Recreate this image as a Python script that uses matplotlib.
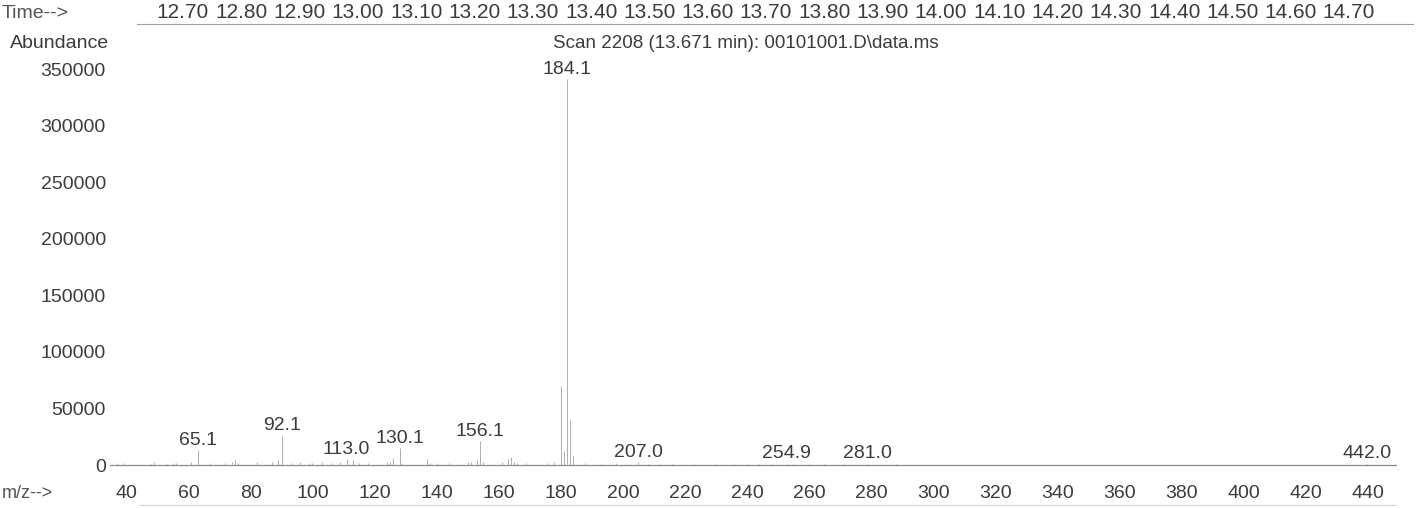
"""GC-MS scan spectrum (Scan 2208, 13.671 min) redrawn with matplotlib."""
import matplotlib
matplotlib.use("Agg")
import matplotlib.pyplot as plt
from matplotlib.lines import Line2D
from matplotlib.transforms import ScaledTranslation

plt.rcParams["font.family"] = ["Liberation Sans", "DejaVu Sans"]

TEXT = "#3c3c3c"
PEAK = "#b0b0b0"

# spectrum: m/z and abundance
mz = [39, 41, 50, 51, 55, 57, 58, 63, 65.1, 69, 74, 76, 77, 78, 84, 87, 89, 91,
      92.1, 95, 98, 101, 102, 105, 108, 111, 113.0, 115, 117, 120, 126, 127, 128,
      130.1, 131, 139, 140, 142, 146, 152, 153, 155, 156.1, 157, 163, 165, 166,
      167, 168, 171, 178, 180, 182, 183, 184.1, 185, 186, 190, 195, 200, 204,
      207.0, 210, 214, 218, 225, 232, 238, 242, 246, 250, 254.9, 257, 262, 267,
      273, 281.0, 290, 341, 442.0]
abundance = [1500, 2000, 1200, 2500, 1000, 1500, 1800, 3000, 13000, 1500, 1500,
             2500, 4000, 1500, 2500, 1200, 3000, 4000, 26000, 1500, 2500, 1500,
             2000, 3000, 2000, 2500, 5000, 4000, 1500, 2000, 2500, 3000, 6000,
             15000, 2000, 5000, 2000, 1500, 1500, 3000, 2500, 4000, 21000, 3000,
             2500, 5000, 7000, 3000, 2000, 1500, 1500, 2500, 70000, 12000, 341000,
             40000, 8000, 1500, 1200, 1500, 1000, 2500, 1000, 800, 800, 600, 700,
             700, 600, 800, 700, 1300, 800, 600, 600, 700, 1300, 500, 400, 1300]

# labelled peaks
label_mz = [65.1, 92.1, 113.0, 130.1, 156.1, 184.1, 207.0, 254.9, 281.0, 442.0]
label_text = ["65.1", "92.1", "113.0", "130.1", "156.1", "184.1", "207.0",
              "254.9", "281.0", "442.0"]

mz_ticks = [40, 60, 80, 100, 120, 140, 160, 180, 200, 220, 240, 260, 280, 300,
            320, 340, 360, 380, 400, 420, 440]
abund_ticks = [0, 50000, 100000, 150000, 200000, 250000, 300000, 350000]
time_ticks = [12.70, 12.80, 12.90, 13.00, 13.10, 13.20, 13.30, 13.40, 13.50,
              13.60, 13.70, 13.80, 13.90, 14.00, 14.10, 14.20, 14.30, 14.40,
              14.50, 14.60, 14.70]

title = "Scan 2208 (13.671 min): 00101001.D\\data.ms"

W, H = 1422, 508
fig = plt.figure(figsize=(W / 100, H / 100), dpi=100)


def fx(px):
    return px / W


def fy(py):
    return 1 - py / H


# main spectrum axes
ax = fig.add_axes([fx(110), fy(470), fx(1397 - 110), (470 - 60) / H])
ax.vlines(mz, 0, abundance, color=PEAK, lw=0.75)
ax.axhline(0, color="#8c8c8c", lw=0.9)
for m, t in zip(label_mz, label_text):
    y = abundance[mz.index(m)]
    ax.annotate(t, (m, y), xytext=(0, 1), textcoords="offset points",
                ha="center", va="bottom", fontsize=14, color=TEXT)

ax.set_xlim(36.78, 451.53)
ax.set_ylim(-4419, 357955)
ax.set_xticks(mz_ticks)
ax.set_xticklabels([str(t) for t in mz_ticks])
ax.set_yticks(abund_ticks)
ax.set_yticklabels([str(t) for t in abund_ticks])
ax.tick_params(axis="both", length=0, labelsize=14, labelcolor=TEXT)
ax.tick_params(axis="x", pad=11)
ax.tick_params(axis="y", pad=3)
for lab in ax.get_xticklabels():
    lab.set_transform(lab.get_transform() + ScaledTranslation(0.065, 0, fig.dpi_scale_trans))
for s in ax.spines.values():
    s.set_visible(False)

# retention time axis on top
ax_t = fig.add_axes([fx(110), fy(24), fx(1415 - 110), 0.0001])
ax_t.set_xlim(12.5748, 12.70 + (1415 - 183) / 583)
ax_t.set_xticks(time_ticks)
ax_t.set_xticklabels([f"{t:.2f}" for t in time_ticks])
ax_t.xaxis.tick_top()
ax_t.tick_params(axis="x", length=0, pad=1.5, labelsize=15, labelcolor=TEXT)
ax_t.set_yticks([])
for name, s in ax_t.spines.items():
    s.set_visible(name == "top")
ax_t.spines["top"].set_color("#a0a0a0")
ax_t.spines["top"].set_bounds(12.70 - 46 / 583, 12.70 + (1413 - 183) / 583)
ax_t.patch.set_visible(False)

fig.text(fx(2), fy(13), "Time-->", ha="left", va="center", fontsize=14, color="#555555")
fig.text(fx(109), fy(44), "Abundance", ha="right", va="center", fontsize=14, color=TEXT)
fig.text(fx(746), fy(44), title, ha="center", va="center", fontsize=13.5, color=TEXT)
fig.text(fx(2), fy(493), "m/z-->", ha="left", va="center", fontsize=13, color="#555555")

fig.add_artist(Line2D([fx(140), fx(1395)], [fy(505), fy(505)], color="#d0d0d0", lw=0.8))

fig.savefig("out.png", dpi=100)
